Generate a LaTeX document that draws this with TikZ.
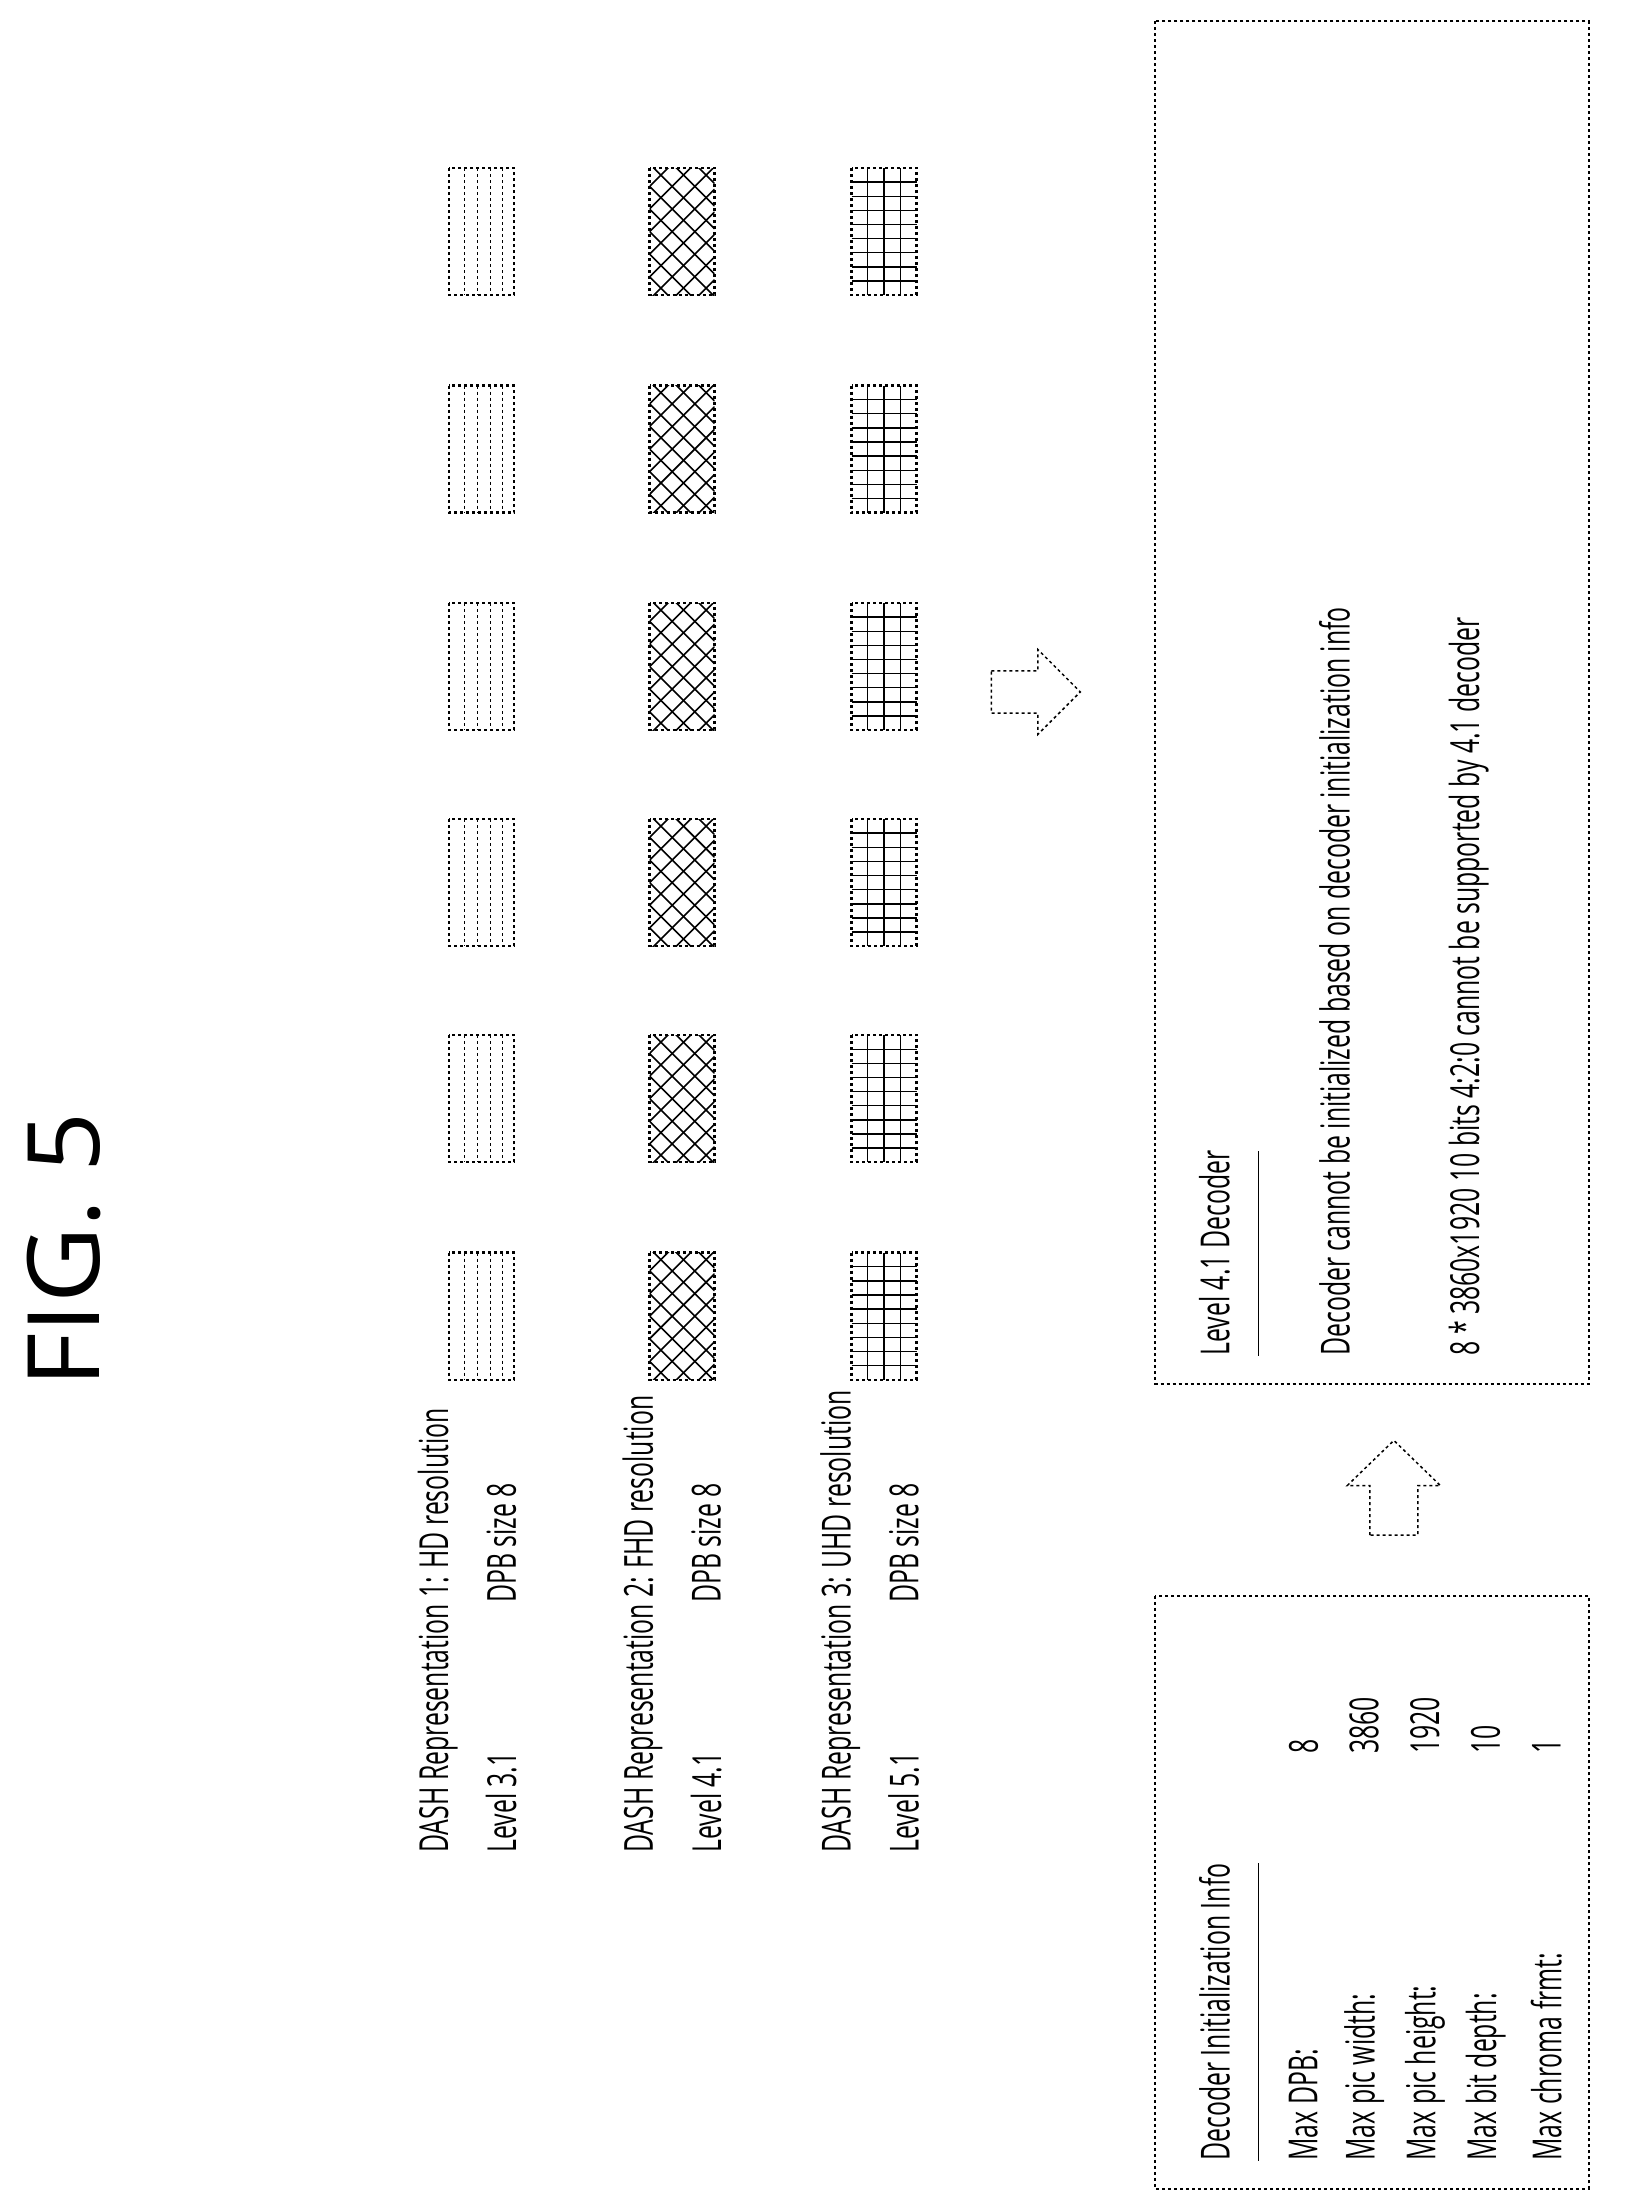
\documentclass[tikz,border=0pt]{standalone}
\usepackage{fontspec}
\setmainfont{Open Sans}
\usetikzlibrary{positioning}
\newcommand{\nar}[1]{\scalebox{0.62}[1]{#1}}
\newcommand{\hdframe}[2]{%
  \draw[framebox] (#1-23,#2-45) rectangle (#1+23,#2+45);
  \foreach \u in {-12,-3,6,15}
    \draw[dashed,line width=1pt] (#1+\u,#2-45) -- (#1+\u,#2+45);
}
\newcommand{\fhdframe}[2]{%
  \begin{scope}
    \clip (#1-23,#2-45) rectangle (#1+23,#2+45);
    \foreach \u in {-80,-64,...,80} {
      \draw[line width=1.6pt] (#1-23,#2+\u) -- (#1+23,#2+\u+46);
      \draw[line width=1.6pt] (#1-23,#2+\u) -- (#1+23,#2+\u-46);
    }
  \end{scope}
  \draw[framebox] (#1-23,#2-45) rectangle (#1+23,#2+45);
}
\newcommand{\uhdframe}[2]{%
  \draw[framebox] (#1-23,#2-45) rectangle (#1+23,#2+45);
  \foreach \u in {-11.5,0,11.5}
    \draw[line width=1.4pt] (#1+\u,#2-45) -- (#1+\u,#2+45);
  \foreach \v in {-35,-25,...,35}
    \draw[line width=1.4pt] (#1-23,#2+\v) -- (#1+23,#2+\v);
}
\begin{document}
\begin{tikzpicture}[
    x=1.412pt, y=-1.412pt,
    every node/.style={inner sep=0pt,font=\fontsize{40}{44}\selectfont},
    vtext/.style={rotate=90,anchor=west},
    framebox/.style={draw,dashed,line width=2.4pt},
    infobox/.style={draw,dashed,line width=2pt},
    hollow/.style={draw,dashed,line width=1.5pt,line join=miter}
  ]
  \useasboundingbox (0,0) rectangle (1165,1560);
  \node[rotate=90,font=\fontsize{100}{104}\selectfont] (title) at (45,885) {\scalebox{1.05}[1]{FIG. 5}};

  % representations
  \node[vtext] (rep1) at (310,1312) {\nar{DASH Representation 1: HD resolution}};
  \node[vtext] (lev1) at (355,1312) {\nar{Level 3.1}};
  \node[vtext] (dpb1) at (355,1135) {\nar{DPB size 8}};
  \node[vtext] (rep2) at (455,1312) {\nar{DASH Representation 2: FHD resolution}};
  \node[vtext] (lev2) at (500,1312) {\nar{Level 4.1}};
  \node[vtext] (dpb2) at (500,1135) {\nar{DPB size 8}};
  \node[vtext] (rep3) at (595,1312) {\nar{DASH Representation 3: UHD resolution}};
  \node[vtext] (lev3) at (640,1312) {\nar{Level 5.1}};
  \node[vtext] (dpb3) at (640,1135) {\nar{DPB size 8}};

  \foreach \y in {932,778,625,472,318,164} {
    \hdframe{341}{\y}
    \fhdframe{483}{\y}
    \uhdframe{626}{\y}
  }

  % hollow arrows
  \draw[hollow] (702,475) -- (735,475) -- (735,460) -- (765,490) -- (735,520)
    -- (735,505) -- (702,505) -- cycle;
  \draw[hollow] (970,1087) -- (970,1052) -- (954,1052) -- (987,1020) -- (1020,1052)
    -- (1004,1052) -- (1004,1087) -- cycle;

  % decoder initialization info
  \draw[infobox] (818,1130) rectangle (1125,1550);
  \node[vtext] (initttl) at (860,1530) {\nar{Decoder Initialization Info}};
  \draw[line width=1.5pt] (initttl.south west) ++(20,0) coordinate (u1) -- (u1 |- initttl.north east);
  \foreach \lab/\val [count=\i] in {Max DPB:/8,Max pic width:/3860,Max pic height:/1920,Max bit depth:/10,Max chroma frmt:/1} {
    \node[vtext] (lab\i) at (880+43*\i,1530) {\nar{\lab}};
    \node[vtext] (val\i) at (880+43*\i,1242) {\nar{\val}};
  }

  % level 4.1 decoder
  \draw[infobox] (818,15) rectangle (1125,980);
  \node[vtext] (decttl) at (860,960) {\nar{Level 4.1 Decoder}};
  \draw[line width=1.5pt] (decttl.south west) ++(20,0) coordinate (u2) -- (u2 |- decttl.north east);
  \node[vtext] (decl1) at (945,960) {\nar{Decoder cannot be initialized based on decoder initialization info}};
  \node[vtext] (decl2) at (1040,960) {\nar{8 * 3860x1920 10 bits 4:2:0 cannot be supported by 4.1 decoder}};
\end{tikzpicture}
\end{document}
